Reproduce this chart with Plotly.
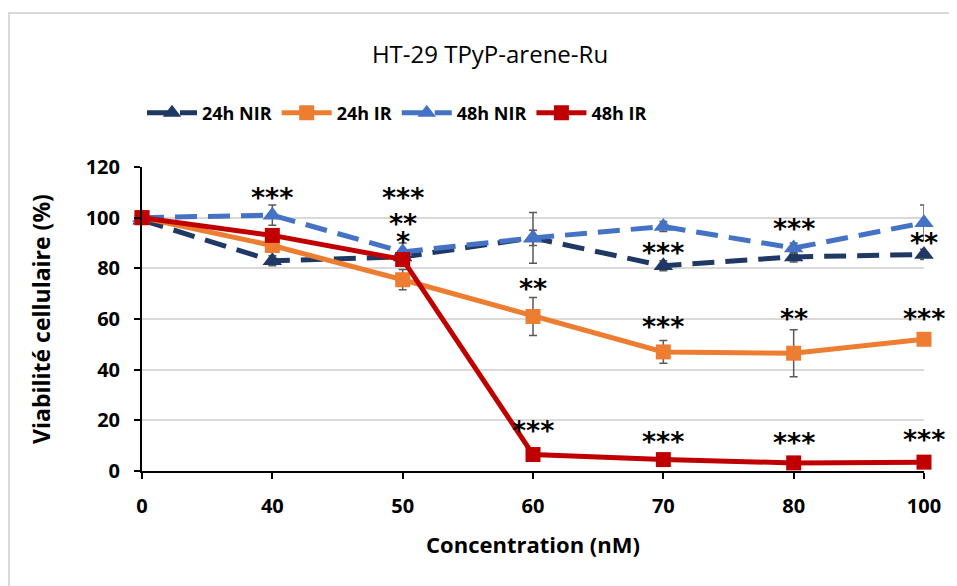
import plotly.graph_objects as go

categories = ["0", "40", "50", "60", "70", "80", "100"]

nir_24h = [99, 83, 84.5, 92, 81, 84.5, 85.5]
nir_24h_err = [0, 2, 2, 3, 2, 2, 2]
ir_24h = [100, 89, 75.5, 61, 47, 46.5, 52]
ir_24h_err = [0, 2, 4, 7.5, 4.5, 9.3, 2]
nir_48h = [100, 101, 86.5, 92, 96.5, 88, 98]
nir_48h_err = [0, 4, 3.5, 10, 2, 2, 7]
ir_48h = [100, 93, 83.5, 6.5, 4.5, 3.2, 3.5]
ir_48h_err = [0, 2, 2, 1, 1, 1, 1]

sig_x = ["40", "50", "50", "50", "60", "60", "70", "70", "70", "80", "80", "80", "100", "100", "100"]
sig_y = [110.5, 110.5, 99.9, 92.8, 74.6, 18.2, 88.8, 59.6, 14.2, 97.9, 62.4, 13.8, 92.4, 62.4, 15.0]
sig_text = ["***", "***", "**", "*", "**", "***", "***", "***", "***", "***", "**", "***", "**", "***", "***"]

y_ticks = [0, 20, 40, 60, 80, 100, 120]

FONT = "Open Sans, sans-serif"
ERR = "#595959"

# the page has an 8px body margin; figure coords = screen coords - 8
W, H = 949, 578
L, R, T, B = 134, 33, 159, 115
PW = W - L - R
PH = H - T - B

fig = go.Figure()

def add(name, y, err, color, dash, symbol, msize):
    fig.add_trace(go.Scatter(
        x=categories, y=y, name=name, mode="lines+markers",
        line=dict(color=color, width=5, dash=dash),
        marker=dict(symbol=symbol, size=msize, color=color),
        error_y=dict(type="data", array=err, visible=True, color=ERR, thickness=1.5, width=4),
        cliponaxis=False,
    ))

add("24h NIR", nir_24h, nir_24h_err, "#203864", "22px,11px", "triangle-up", 17)
add("24h IR", ir_24h, ir_24h_err, "#ED7D31", "solid", "square", 15)
add("48h NIR", nir_48h, nir_48h_err, "#4472C4", "22px,11px", "triangle-up", 17)
add("48h IR", ir_48h, ir_48h_err, "#C00000", "solid", "square", 15)

for xv, yv, t in zip(sig_x, sig_y, sig_text):
    fig.add_annotation(x=categories.index(xv), y=yv, xref="x", yref="y", text=t, showarrow=False,
                       font=dict(family="DejaVu Sans", size=27, color="#000000", weight="bold"),
                       yanchor="middle", yshift=-6)

# outer chart border (light gray)
fig.add_shape(type="rect", xref="paper", yref="paper",
              x0=(1 - L) / PW, x1=(W + 10 - L) / PW,
              y0=-(B + 10) / PH, y1=(PH + T - 5) / PH,
              line=dict(color="#D9D9D9", width=2), fillcolor="rgba(0,0,0,0)", layer="below")

fig.update_layout(
    width=W, height=H,
    margin=dict(l=L, r=R, t=T, b=B),
    paper_bgcolor="white", plot_bgcolor="white",
    font=dict(family=FONT, color="#000000"),
    title=dict(text="HT-29 TPyP-arene-Ru", x=(490 - 8) / W, xanchor="center",
               y=1 - (55 - 8) / H, yanchor="middle", xref="container", yref="container",
               font=dict(family=FONT, size=24, color="#000000")),
    showlegend=True,
    legend=dict(orientation="h", x=0.0, xanchor="left", y=(PH + T - (113 - 8)) / PH, yanchor="middle",
                font=dict(family=FONT, size=18, color="#000000", weight="bold"),
                itemwidth=50, traceorder="normal", bgcolor="rgba(0,0,0,0)"),
    xaxis=dict(type="category", range=[0, 6], showgrid=False, zeroline=False,
               showline=True, linecolor="#000000", linewidth=2,
               ticks="outside", ticklen=6, tickwidth=2, tickcolor="#000000",
               ticklabelstandoff=10,
               tickfont=dict(family=FONT, size=20, color="#000000", weight="bold"),
               title=dict(text="Concentration (nM)", standoff=20,
                          font=dict(family=FONT, size=22, color="#000000", weight="bold"))),
    yaxis=dict(range=[0, 120], tickvals=y_ticks, showgrid=True, gridcolor="#D9D9D9", gridwidth=1.5,
               zeroline=False, showline=True, linecolor="#000000", linewidth=2,
               ticks="outside", ticklen=6, tickwidth=2, tickcolor="#000000",
               ticklabelstandoff=10,
               tickfont=dict(family=FONT, size=20, color="#000000", weight="bold"),
               title=dict(text="Viabilité cellulaire (%)", standoff=29,
                          font=dict(family=FONT, size=23, color="#000000", weight="bold"))),
)

fig.write_html("out.html")
